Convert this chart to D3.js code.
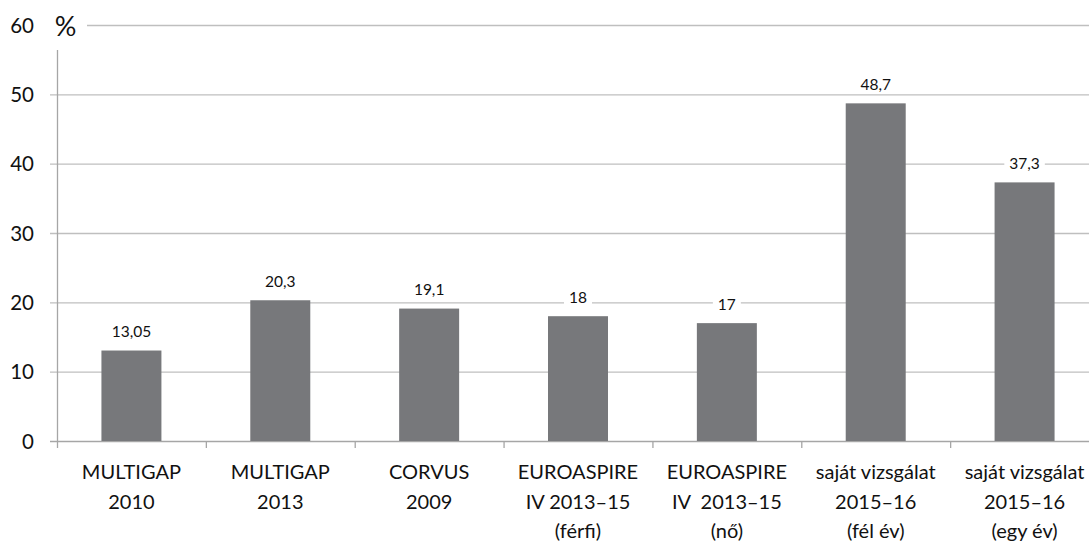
<!DOCTYPE html>
<html><head><meta charset="utf-8">
<script src="https://cdn.jsdelivr.net/npm/d3@7"></script>
<style>body{margin:0;background:#fff}svg{display:block}text{font-family:Lato,"Open Sans",sans-serif;fill:#111}</style>
</head><body><svg id="c" width="1089" height="543"></svg>
<script>
const categories = [
  ["MULTIGAP","2010"],
  ["MULTIGAP","2013"],
  ["CORVUS","2009"],
  ["EUROASPIRE","IV 2013–15","(férfi)"],
  ["EUROASPIRE","IV  2013–15","(nő)"],
  ["saját vizsgálat","2015–16","(fél év)"],
  ["saját vizsgálat","2015–16","(egy év)"]
];
const values = [13.05, 20.3, 19.1, 18, 17, 48.7, 37.3];
const valueLabels = ["13,05","20,3","19,1","18","17","48,7","37,3"];
const yTicks = [0,10,20,30,40,50,60];
const unitLabel = "%";

(function(){
const svg = d3.select("#c");
const mLeft = 57, mRight = 1099, mTop = 25, mBottom = 441;
const idx = categories.map((d,i)=>i);
const x = d3.scaleBand().domain(idx).range([mLeft,mRight]).paddingInner(0.597).paddingOuter(0.2985);
const xb = d3.scaleBand().domain(idx).range([mLeft,mRight]);
const y = d3.scaleLinear().domain([0,60]).range([mBottom,mTop]);

svg.append("g").selectAll("line").data(yTicks.filter(t=>t>0)).join("line")
  .attr("x1",50).attr("x2",1089).attr("y1",d=>y(d)+0.5).attr("y2",d=>y(d)+0.5)
  .attr("stroke","#bfbfbf").attr("stroke-width",1.3);
svg.append("line").attr("x1",mLeft+0.5).attr("x2",mLeft+0.5).attr("y1",y(60)).attr("y2",mBottom)
  .attr("stroke","#a6a6a6").attr("stroke-width",1.3);
svg.append("line").attr("x1",50).attr("x2",1089).attr("y1",mBottom+0.5).attr("y2",mBottom+0.5)
  .attr("stroke","#a6a6a6").attr("stroke-width",1.3);
svg.append("g").selectAll("line").data(idx.concat([idx.length])).join("line")
  .attr("x1",d=>(d<idx.length?xb(d):mRight)+0.5).attr("x2",d=>(d<idx.length?xb(d):mRight)+0.5)
  .attr("y1",mBottom).attr("y2",mBottom+7).attr("stroke","#a6a6a6").attr("stroke-width",1.3);

svg.append("rect").attr("x",45).attr("y",0).attr("width",42).attr("height",50).attr("fill","#fff");
svg.append("text").attr("x",65.5).attr("y",36).attr("text-anchor","middle")
  .style("font-size","27px").text(unitLabel);

svg.append("g").selectAll("text").data(yTicks).join("text")
  .attr("x",34).attr("y",d=>y(d)+7.5).attr("text-anchor","end")
  .style("font-size","20.5px").text(d=>d);

svg.append("g").selectAll("rect").data(values).join("rect")
  .attr("x",(d,i)=>x(i)).attr("width",x.bandwidth())
  .attr("y",d=>y(d)).attr("height",d=>mBottom-y(d)).attr("fill","#77787b");

const vl = svg.append("g").selectAll("g").data(values).join("g")
  .attr("transform",(d,i)=>`translate(${x(i)+x.bandwidth()/2},${y(d)-19})`);
vl.append("text").attr("text-anchor","middle").attr("y",5.5).style("font-size","15.5px")
  .text((d,i)=>valueLabels[i]);
vl.each(function(){
  const g=d3.select(this), bb=g.select("text").node().getBBox();
  g.insert("rect","text").attr("x",bb.x-5).attr("y",bb.y-1).attr("width",bb.width+10).attr("height",bb.height+2).attr("fill","#fff");
});

const cl = svg.append("g").selectAll("text").data(categories).join("text")
  .attr("text-anchor","middle").style("font-size","20px")
  .attr("transform",(d,i)=>`translate(${xb(i)+xb.bandwidth()/2},0)`);
cl.selectAll("tspan").data(d=>d).join("tspan").attr("x",0)
  .attr("y",(d,j)=>479+j*29.5).style("white-space","pre").text(d=>d);
})();
</script></body></html>
